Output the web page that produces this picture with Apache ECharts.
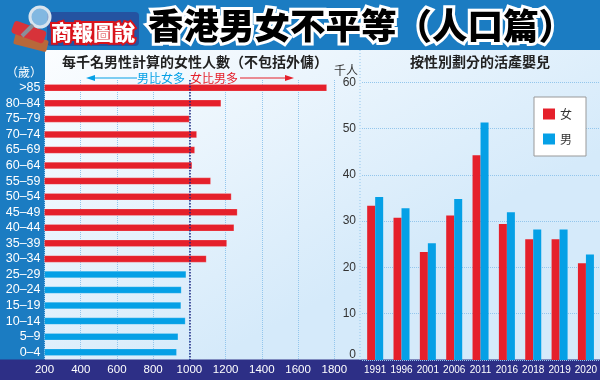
<!DOCTYPE html>
<html><head><meta charset="utf-8">
<script src="https://cdn.jsdelivr.net/npm/echarts@6/dist/echarts.min.js"></script>
<style>html,body{margin:0;padding:0;background:#1b7cc2;}#c{width:600px;height:380px;}</style>
</head><body><div id="c"></div>
<script>
// ---- data ----
const ageGroups = ['>85','80–84','75–79','70–74','65–69','60–64','55–59','50–54','45–49','40–44','35–39','30–34','25–29','20–24','15–19','10–14','5–9','0–4'];
const femalesPer1000Males = [1759,1175,1000,1041,1030,1015,1118,1232,1265,1247,1207,1094,982,956,954,978,938,930];
const birthYears = ['1991','1996','2001','2006','2011','2016','2018','2019','2020'];
const femaleBirths = [33.3,30.7,23.3,31.2,44.2,29.4,26.1,26.1,20.9];
const maleBirths   = [35.2,32.8,25.2,34.8,51.3,31.9,28.2,28.2,22.8];
const ratioTicks = {min:200, max:1800, interval:200};
const birthTicks = {min:0, max:60, interval:10};

const RED = '#e5202b', BLUE = '#05a0e6', NAVY = '#2d2f86', HEAD = '#1b7cc2', GRIDC = '#93c6ec';
const CJK = '"Noto Sans CJK TC","Noto Sans CJK SC",sans-serif';
const NUM = '"Liberation Sans",Arial,sans-serif';

const chart = echarts.init(document.getElementById('c'), null, {renderer:'canvas'});
const G = echarts.graphic;

const graphic = [
  // panel background
  {type:'rect', z:-5, shape:{x:45,y:50,width:555,height:310},
   style:{fill:new G.LinearGradient(0,0,0.3,1,[{offset:0,color:'#fbfdff'},{offset:1,color:'#d5eafa'}])}},
  // bottom navy strip
  {type:'rect', z:-4, shape:{x:0,y:359.5,width:600,height:21}, style:{fill:NAVY}},
  // separator between panels
  {type:'line', z:-3, shape:{x1:360,y1:50,x2:360,y2:360}, style:{stroke:GRIDC,lineWidth:1,lineDash:[1,2]}},
  // decorative icon (books + magnifier)
  {type:'rect', z:5, shape:{x:14,y:36,width:34,height:12,r:2}, rotation:-0.25, originX:30, originY:42, style:{fill:'#b8683a'}},
  {type:'rect', z:6, shape:{x:12,y:26,width:34,height:13,r:3}, rotation:-0.35, originX:30, originY:32, style:{fill:'#d7333a'}},
  {type:'circle', z:7, shape:{cx:40,cy:17,r:10}, style:{fill:'rgba(200,225,245,0.6)',stroke:'#d8e4ee',lineWidth:3}},
  {type:'line', z:7, shape:{x1:33,y1:25,x2:22,y2:36}, style:{stroke:'#8a8f98',lineWidth:4}},
  // badge background
  {type:'rect', z:4, shape:{x:47,y:12,width:92,height:34,r:4}, style:{fill:'rgba(40,70,150,0.75)'}},
  // badge text
  {type:'text', z:8, x:93, y:32, style:{text:'商報圖說', font:'900 21px '+CJK, fill:'#fff', stroke:'#d9141c', lineWidth:4,
     textAlign:'center', align:'center', textVerticalAlign:'middle', verticalAlign:'middle', strokeFirst:true}},
  // main title: white outline layer
  {type:'text', z:9, x:148, y:26, style:{text:'香港男女不平等（人口篇）', font:'900 35.5px '+CJK, fill:'#fff', stroke:'#fff', lineWidth:6,
     textAlign:'left', align:'left', textVerticalAlign:'middle', verticalAlign:'middle'}},
  // main title: gradient fill layer
  {type:'text', z:10, x:148, y:26, style:{text:'香港男女不平等（人口篇）', font:'900 35.5px '+CJK,
     fill:new G.LinearGradient(0,0,0,1,[{offset:0,color:'#e3101e'},{offset:0.35,color:'#e8261c'},{offset:1,color:'#f8b022'}]),
     textAlign:'left', align:'left', textVerticalAlign:'middle', verticalAlign:'middle'}},
  // subtitles
  {type:'text', z:10, x:195, y:62, style:{text:'每千名男性計算的女性人數（不包括外傭）', font:'bold 14px '+CJK, fill:'#222',
     textAlign:'center', align:'center', textVerticalAlign:'middle', verticalAlign:'middle'}},
  {type:'text', z:10, x:480, y:62, style:{text:'按性別劃分的活產嬰兒', font:'bold 14px '+CJK, fill:'#222',
     textAlign:'center', align:'center', textVerticalAlign:'middle', verticalAlign:'middle'}},
  // unit labels
  {type:'text', z:10, x:24, y:72, style:{text:'（歲）', font:'12px '+CJK, fill:'#fff',
     textAlign:'center', align:'center', textVerticalAlign:'middle', verticalAlign:'middle'}},
  {type:'text', z:10, x:346, y:70, style:{text:'千人', font:'12px '+CJK, fill:'#333',
     textAlign:'center', align:'center', textVerticalAlign:'middle', verticalAlign:'middle'}},
  // direction annotation
  {type:'line', z:10, shape:{x1:92,y1:78,x2:137,y2:78}, style:{stroke:BLUE,lineWidth:1.2}},
  {type:'polygon', z:10, shape:{points:[[86,78],[95,75],[95,81]]}, style:{fill:BLUE}},
  {type:'text', z:10, x:161, y:78, style:{text:'男比女多', font:'12px '+CJK, fill:BLUE,
     textAlign:'center', align:'center', textVerticalAlign:'middle', verticalAlign:'middle'}},
  {type:'text', z:10, x:214, y:78, style:{text:'女比男多', font:'12px '+CJK, fill:RED,
     textAlign:'center', align:'center', textVerticalAlign:'middle', verticalAlign:'middle'}},
  {type:'line', z:10, shape:{x1:240,y1:78,x2:287,y2:78}, style:{stroke:RED,lineWidth:1.2}},
  {type:'polygon', z:10, shape:{points:[[294,78],[285,75],[285,81]]}, style:{fill:RED}}
];

const option = {
  animation:false,
  backgroundColor: HEAD,
  graphic: graphic,
  legend: {
    data:['女','男'], orient:'vertical', left:534, top:97, width:50,
    backgroundColor:'#fff', borderColor:'#999', borderWidth:1, borderRadius:0,
    padding:[11,14,11,9], itemGap:13, itemWidth:12, itemHeight:11, icon:'rect',
    textStyle:{color:'#333', fontSize:12, fontFamily:CJK}
  },
  grid: [
    {left:44.5, right:265.7, top:80, bottom:20},
    {left:362, right:0, top:82.2, bottom:20}
  ],
  xAxis: [
    {gridIndex:0, type:'value', min:ratioTicks.min, max:ratioTicks.max, interval:ratioTicks.interval,
     axisLine:{show:false}, axisTick:{show:false},
     splitLine:{show:true, lineStyle:{type:'dotted', color:GRIDC, width:1}},
     axisLabel:{color:'#fff', fontSize:11.5, margin:4, fontFamily:NUM, showMaxLabel:true, hideOverlap:false,
       formatter:v => String(v)}},
    {gridIndex:1, type:'category', data:birthYears,
     axisLine:{show:false}, axisTick:{show:false},
     axisLabel:{color:'#fff', fontSize:10, margin:5, fontFamily:NUM, interval:0}}
  ],
  yAxis: [
    {gridIndex:0, type:'category', data:ageGroups, inverse:true,
     axisLine:{show:false}, axisTick:{show:false},
     axisLabel:{color:'#fff', fontSize:12.5, margin:4, fontFamily:NUM, interval:0}},
    {gridIndex:1, type:'value', min:birthTicks.min, max:birthTicks.max, interval:birthTicks.interval,
     axisLine:{show:false}, axisTick:{show:false},
     splitLine:{show:true, lineStyle:{type:'dotted', color:GRIDC, width:1}},
     axisLabel:{color:'#333', fontSize:12, margin:6, fontFamily:NUM,
       formatter:v => v === 0 ? '{z|0}' : String(v),
       rich:{z:{color:'#333', fontSize:12, fontFamily:NUM, padding:[0,0,10,0]}}}}
  ],
  series: [
    {type:'bar', xAxisIndex:0, yAxisIndex:0, barWidth:7, clip:true,
     data: femalesPer1000Males.map(v => ({value:v, itemStyle:{color: v >= 1000 ? RED : BLUE}})),
     itemStyle:{borderColor:'rgba(255,255,255,0.35)', borderWidth:0.5},
     markLine:{silent:true, symbol:'none', label:{show:false},
       lineStyle:{type:'dotted', color:'#1d2580', width:1.5}, data:[{xAxis:1000}]}},
    {name:'女', type:'bar', xAxisIndex:1, yAxisIndex:1, barWidth:8, barGap:'0%', data:femaleBirths, itemStyle:{color:RED}},
    {name:'男', type:'bar', xAxisIndex:1, yAxisIndex:1, barWidth:8, barGap:'0%', data:maleBirths, itemStyle:{color:BLUE}}
  ]
};
chart.setOption(option);
</script>
</body></html>
